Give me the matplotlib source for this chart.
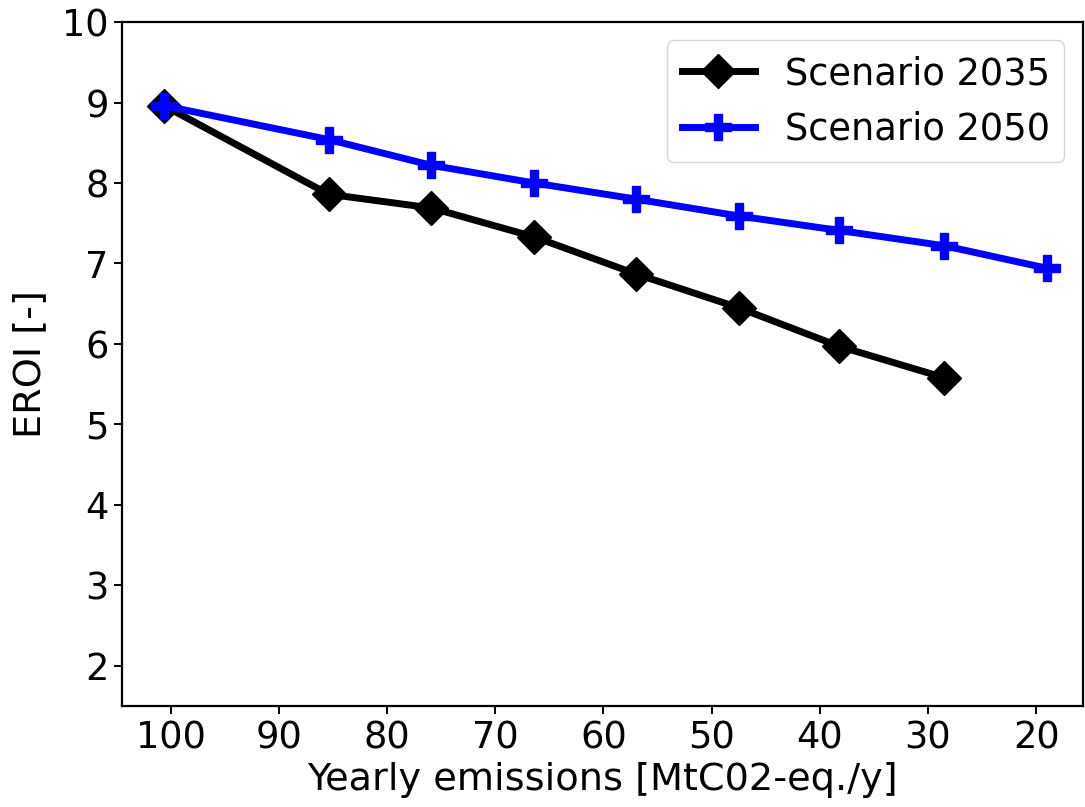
import matplotlib
matplotlib.use("Agg")
import matplotlib.pyplot as plt

emissions_2035 = [100.6, 85.4, 75.9, 66.4, 57.0, 47.5, 38.2, 28.5]
eroi_2035 = [8.96, 7.86, 7.69, 7.33, 6.87, 6.45, 5.97, 5.58]
emissions_2050 = [100.6, 85.4, 75.9, 66.4, 57.0, 47.5, 38.2, 28.5, 19.0]
eroi_2050 = [8.96, 8.54, 8.22, 8.00, 7.80, 7.59, 7.41, 7.22, 6.94]
labels = ["Scenario 2035", "Scenario 2050"]
xticks = [100, 90, 80, 70, 60, 50, 40, 30, 20]
yticks = [2, 3, 4, 5, 6, 7, 8, 9, 10]

plt.rcParams['font.family'] = ['DejaVu Sans']
fs = 26.5

fig = plt.figure(figsize=(10.85, 8.07), dpi=100)
ax = fig.add_axes([0.1124, 0.125, 0.8856, 0.8477])

ax.plot(emissions_2035, eroi_2035, color='black', marker='D', lw=5, ms=17,
        label=labels[0])
ax.plot(emissions_2050, eroi_2050, color='blue', marker='P', lw=5, ms=19,
        label=labels[1])

ax.set_xlim(104.5, 15.7)
ax.set_ylim(1.5, 10)
ax.set_xticks(xticks)
ax.set_yticks(yticks)
ax.tick_params(labelsize=fs, length=6, width=1.4)
for s in ax.spines.values():
    s.set_linewidth(1.6)
ax.set_xlabel("Yearly emissions [MtC02-eq./y]", fontsize=27.5, labelpad=4)
ax.set_ylabel("EROI [-]", fontsize=27.5, labelpad=10)
ax.legend(loc='upper right', fontsize=fs)

fig.savefig("out.png", dpi=100)
